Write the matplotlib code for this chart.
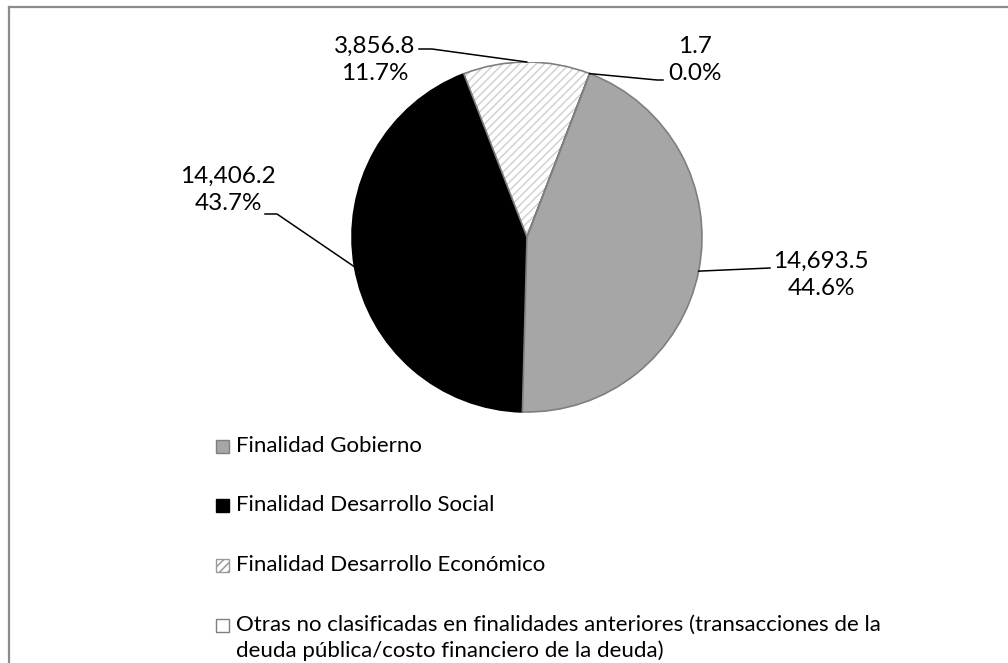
import math
import textwrap
import matplotlib
matplotlib.use("Agg")
import matplotlib.pyplot as plt
from matplotlib.patches import Wedge, Rectangle
from matplotlib.lines import Line2D

# ---- data ----
categories = [
    "Finalidad Gobierno",
    "Finalidad Desarrollo Social",
    "Finalidad Desarrollo Económico",
    "Otras no clasificadas en finalidades anteriores (transacciones de la deuda pública/costo financiero de la deuda)",
]
values = [14693.5, 14406.2, 3856.8, 1.7]

# ---- style ----
plt.rcParams['font.family'] = ['Lato', 'DejaVu Sans']
plt.rcParams['hatch.linewidth'] = 1.1
FS_LAB = 17.5
FS_LEG = 16
W, H = 1008, 663
CX, CY, R = 527, 237, 175

faces = ['#a6a6a6', '#000000', 'white', 'white']
edges = ['#7f7f7f', '#000000', '#7f7f7f', '#7f7f7f']

fig = plt.figure(figsize=(W / 100, H / 100), dpi=100)
# frame (left and top edges visible)
fig.add_artist(Line2D([9 / W, 9 / W], [0, (H - 7) / H], color='#8c8c8c', lw=1.6))
fig.add_artist(Line2D([9 / W, 1], [(H - 7) / H, (H - 7) / H], color='#8c8c8c', lw=1.6))

ax = fig.add_axes([(CX - R) / W, (H - CY - R) / H, 2 * R / W, 2 * R / H])
wedges, _ = ax.pie(values, startangle=69, counterclock=False, colors=faces,
                   wedgeprops=dict(linewidth=1.2))
for w, ec in zip(wedges, edges):
    w.set_edgecolor(ec)
wedges[0].set_zorder(3)
# hatched wedge
hw = wedges[2]
hw.set_hatch('////')
hw.set_edgecolor('#d2d2d2')
hw.set_linewidth(0)
ax.add_patch(Wedge(hw.center, hw.r, hw.theta1, hw.theta2, facecolor='none',
                   edgecolor='#7f7f7f', lw=1.2, zorder=4))
ax.set_xlim(-1, 1)
ax.set_ylim(-1, 1)
ax.axis('off')


def D(px, py):
    return ((px - CX) / R, (CY - py) / R)


total = sum(values)
# label layout: text centre, leader path (pixels) from wedge anchor
label_pos = [(821, 275), (228, 190), (375, 60), (695, 60)]
leader_pts = [[(770, 268)], [(277, 214), (265, 214)], [(432, 49), (419, 49)], [(657, 80), (663, 80)]]
for w, v, pos, pts in zip(wedges, values, label_pos, leader_pts):
    ang = math.radians((w.theta1 + w.theta2) / 2)
    xs = [math.cos(ang)] + [D(*p)[0] for p in pts]
    ys = [math.sin(ang)] + [D(*p)[1] for p in pts]
    ax.plot(xs, ys, color='black', lw=1.1, clip_on=False, zorder=5)
    tx, ty = D(*pos)
    ax.text(tx, ty, f"{v:,.1f}\n{v / total * 100:.1f}%", ha='center', va='center',
            fontsize=FS_LAB, linespacing=1.4, clip_on=False)

# legend
leg_y = [446, 505, 565, 625]
for i, (cat, y, fc, ec) in enumerate(zip(categories, leg_y, faces, edges)):
    sq = Rectangle((216 / W, (H - y - 6.5) / H), 13 / W, 13 / H, transform=fig.transFigure,
                   facecolor=fc, edgecolor=ec, lw=1.0)
    if i == 2:
        sq.set_hatch('////')
        sq.set_edgecolor('#9a9a9a')
    fig.add_artist(sq)
    lines = textwrap.fill(cat, width=68).split('\n')
    for k, line in enumerate(lines):
        fig.text(236 / W, (H - y - 26 * k) / H, line, ha='left', va='center', fontsize=FS_LEG)

fig.savefig('out.png', dpi=100, facecolor='white')
